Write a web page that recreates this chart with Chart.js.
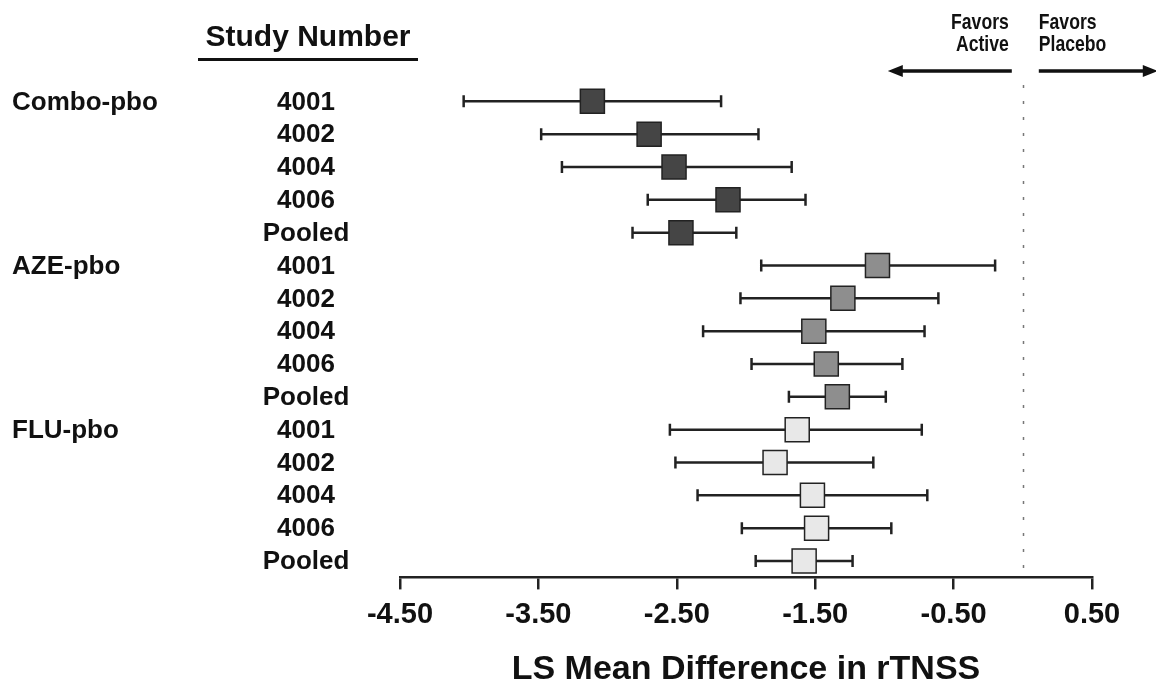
<!DOCTYPE html>
<html>
<head>
<meta charset="utf-8">
<script src="https://cdn.jsdelivr.net/npm/chart.js@4.4.1/dist/chart.umd.min.js"></script>
<style>
    body { margin: 0; background: #fff; }
    #wrap { width: 1156px; height: 696px; position: relative; }
</style>
</head>
<body>
<div id="wrap"><canvas id="forest"></canvas></div>
<script>
// study rows, top to bottom
const studyLabels = ['4001', '4002', '4004', '4006', 'Pooled',
                     '4001', '4002', '4004', '4006', 'Pooled',
                     '4001', '4002', '4004', '4006', 'Pooled'];
const groupNames = ['Combo-pbo', 'AZE-pbo', 'FLU-pbo'];
const groupStart = [0, 5, 10];

// LS mean difference and 95% CI per row
const meanDiff = [-3.11, -2.70, -2.52, -2.13, -2.47,
                  -1.05, -1.30, -1.51, -1.42, -1.34,
                  -1.63, -1.79, -1.52, -1.49, -1.58];
const ciLow   = [-4.04, -3.48, -3.33, -2.71, -2.82,
                 -1.89, -2.04, -2.31, -1.96, -1.69,
                 -2.55, -2.51, -2.35, -2.03, -1.93];
const ciHigh  = [-2.18, -1.91, -1.67, -1.57, -2.07,
                 -0.20, -0.61, -0.71, -0.87, -0.99,
                 -0.73, -1.08, -0.69, -0.95, -1.23];

const xTicks = [-4.5, -3.5, -2.5, -1.5, -0.5, 0.5];
const groupFill = ['#454545', '#8e8e8e', '#e8e8e8'];

const FONT = "'Liberation Sans', Arial, Helvetica, sans-serif";

function rowsOf(g) {
    const start = groupStart[g];
    const out = [];
    for (let i = start; i < start + 5; i++) {
        out.push({ x: meanDiff[i], y: i });
    }
    return out;
}

// narrow bold text (no Arial Narrow installed, so squeeze horizontally)
function narrowText(ctx, text, px, py, align) {
    const k = 0.8;
    ctx.save();
    ctx.translate(px, py);
    ctx.scale(k, 1);
    ctx.textAlign = align;
    ctx.fillText(text, 0, 0);
    ctx.restore();
}

// whiskers drawn under the boxes
const whiskerPlugin = {
    id: 'whiskers',
    beforeDatasetsDraw(chart) {
        const { ctx, scales: { x, y } } = chart;
        ctx.save();
        ctx.strokeStyle = '#222';
        ctx.lineWidth = 2.5;
        for (let i = 0; i < meanDiff.length; i++) {
            const py = y.getPixelForValue(i);
            const x1 = x.getPixelForValue(ciLow[i]);
            const x2 = x.getPixelForValue(ciHigh[i]);
            ctx.beginPath();
            ctx.moveTo(x1, py);
            ctx.lineTo(x2, py);
            ctx.moveTo(x1, py - 6);
            ctx.lineTo(x1, py + 6);
            ctx.moveTo(x2, py - 6);
            ctx.lineTo(x2, py + 6);
            ctx.stroke();
        }
        ctx.restore();
    }
};

// zero line, arrows, row labels and header
const decorPlugin = {
    id: 'decor',
    beforeDatasetsDraw(chart) {
        const { ctx, chartArea, scales: { x } } = chart;
        const zx = Math.round(x.getPixelForValue(0)) + 0.5;
        ctx.save();
        ctx.strokeStyle = '#777';
        ctx.lineWidth = 1.5;
        ctx.setLineDash([3, 13]);
        ctx.beginPath();
        ctx.moveTo(zx, 85);
        ctx.lineTo(zx, chartArea.bottom);
        ctx.stroke();
        ctx.restore();
    },
    afterDraw(chart) {
        const { ctx, scales: { x, y } } = chart;
        const zx = x.getPixelForValue(0);
        ctx.save();
        ctx.fillStyle = '#111';

        // favors labels
        ctx.font = 'bold 22px ' + FONT;
        ctx.textBaseline = 'alphabetic';
        narrowText(ctx, 'Favors', zx - 14, 29, 'right');
        narrowText(ctx, 'Active', zx - 14, 51, 'right');
        narrowText(ctx, 'Favors', zx + 16, 29, 'left');
        narrowText(ctx, 'Placebo', zx + 16, 51, 'left');

        // arrows
        ctx.strokeStyle = '#111';
        ctx.lineWidth = 3.5;
        const ay = 71;
        ctx.beginPath();
        ctx.moveTo(zx - 11, ay);
        ctx.lineTo(zx - 125, ay);
        ctx.moveTo(zx + 16, ay);
        ctx.lineTo(zx + 124, ay);
        ctx.stroke();
        ctx.beginPath();
        ctx.moveTo(zx - 135, ay);
        ctx.lineTo(zx - 120, ay - 6);
        ctx.lineTo(zx - 120, ay + 6);
        ctx.closePath();
        ctx.moveTo(zx + 135, ay);
        ctx.lineTo(zx + 120, ay - 6);
        ctx.lineTo(zx + 120, ay + 6);
        ctx.closePath();
        ctx.fill();

        // header
        ctx.font = 'bold 30px ' + FONT;
        ctx.textAlign = 'center';
        ctx.fillText('Study Number', 308, 46);
        ctx.fillRect(198, 58, 220, 3);

        // row labels
        ctx.font = 'bold 26px ' + FONT;
        ctx.textBaseline = 'middle';
        ctx.textAlign = 'center';
        studyLabels.forEach((lab, i) => {
            ctx.fillText(lab, 306, y.getPixelForValue(i) + 1);
        });
        ctx.textAlign = 'left';
        groupNames.forEach((g, k) => {
            ctx.fillText(g, 12, y.getPixelForValue(groupStart[k]) + 1);
        });
        ctx.restore();
    }
};

const datasets = groupNames.map((name, g) => ({
    label: name,
    data: rowsOf(g),
    pointStyle: 'rect',
    pointRadius: 17,
    pointHoverRadius: 17,
    backgroundColor: groupFill[g],
    borderColor: '#222',
    borderWidth: 1.5
}));

new Chart(document.getElementById('forest'), {
    type: 'scatter',
    data: { datasets },
    plugins: [decorPlugin, whiskerPlugin],
    options: {
        responsive: true,
        maintainAspectRatio: false,
        animation: false,
        layout: { padding: { left: 400, right: 64, top: 80, bottom: 6 } },
        plugins: {
            legend: { display: false },
            tooltip: { enabled: false }
        },
        scales: {
            x: {
                type: 'linear',
                min: -4.5,
                max: 0.5,
                afterBuildTicks: scale => {
                    scale.ticks = xTicks.map(v => ({ value: v }));
                },
                border: { display: true, color: '#222', width: 2.5 },
                grid: {
                    drawOnChartArea: false,
                    drawTicks: true,
                    tickLength: 12,
                    color: '#222',
                    lineWidth: 2.5
                },
                ticks: {
                    color: '#111',
                    padding: 8,
                    maxRotation: 0,
                    font: { family: FONT, size: 29, weight: 'bold' },
                    callback: v => v.toFixed(2)
                },
                title: {
                    display: true,
                    text: 'LS Mean Difference in rTNSS',
                    color: '#111',
                    padding: { top: 9, bottom: 0 },
                    font: { family: FONT, size: 34, weight: 'bold' }
                }
            },
            y: {
                type: 'linear',
                display: false,
                reverse: true,
                min: -0.65,
                max: 14.5
            }
        }
    }
});
</script>
</body>
</html>
